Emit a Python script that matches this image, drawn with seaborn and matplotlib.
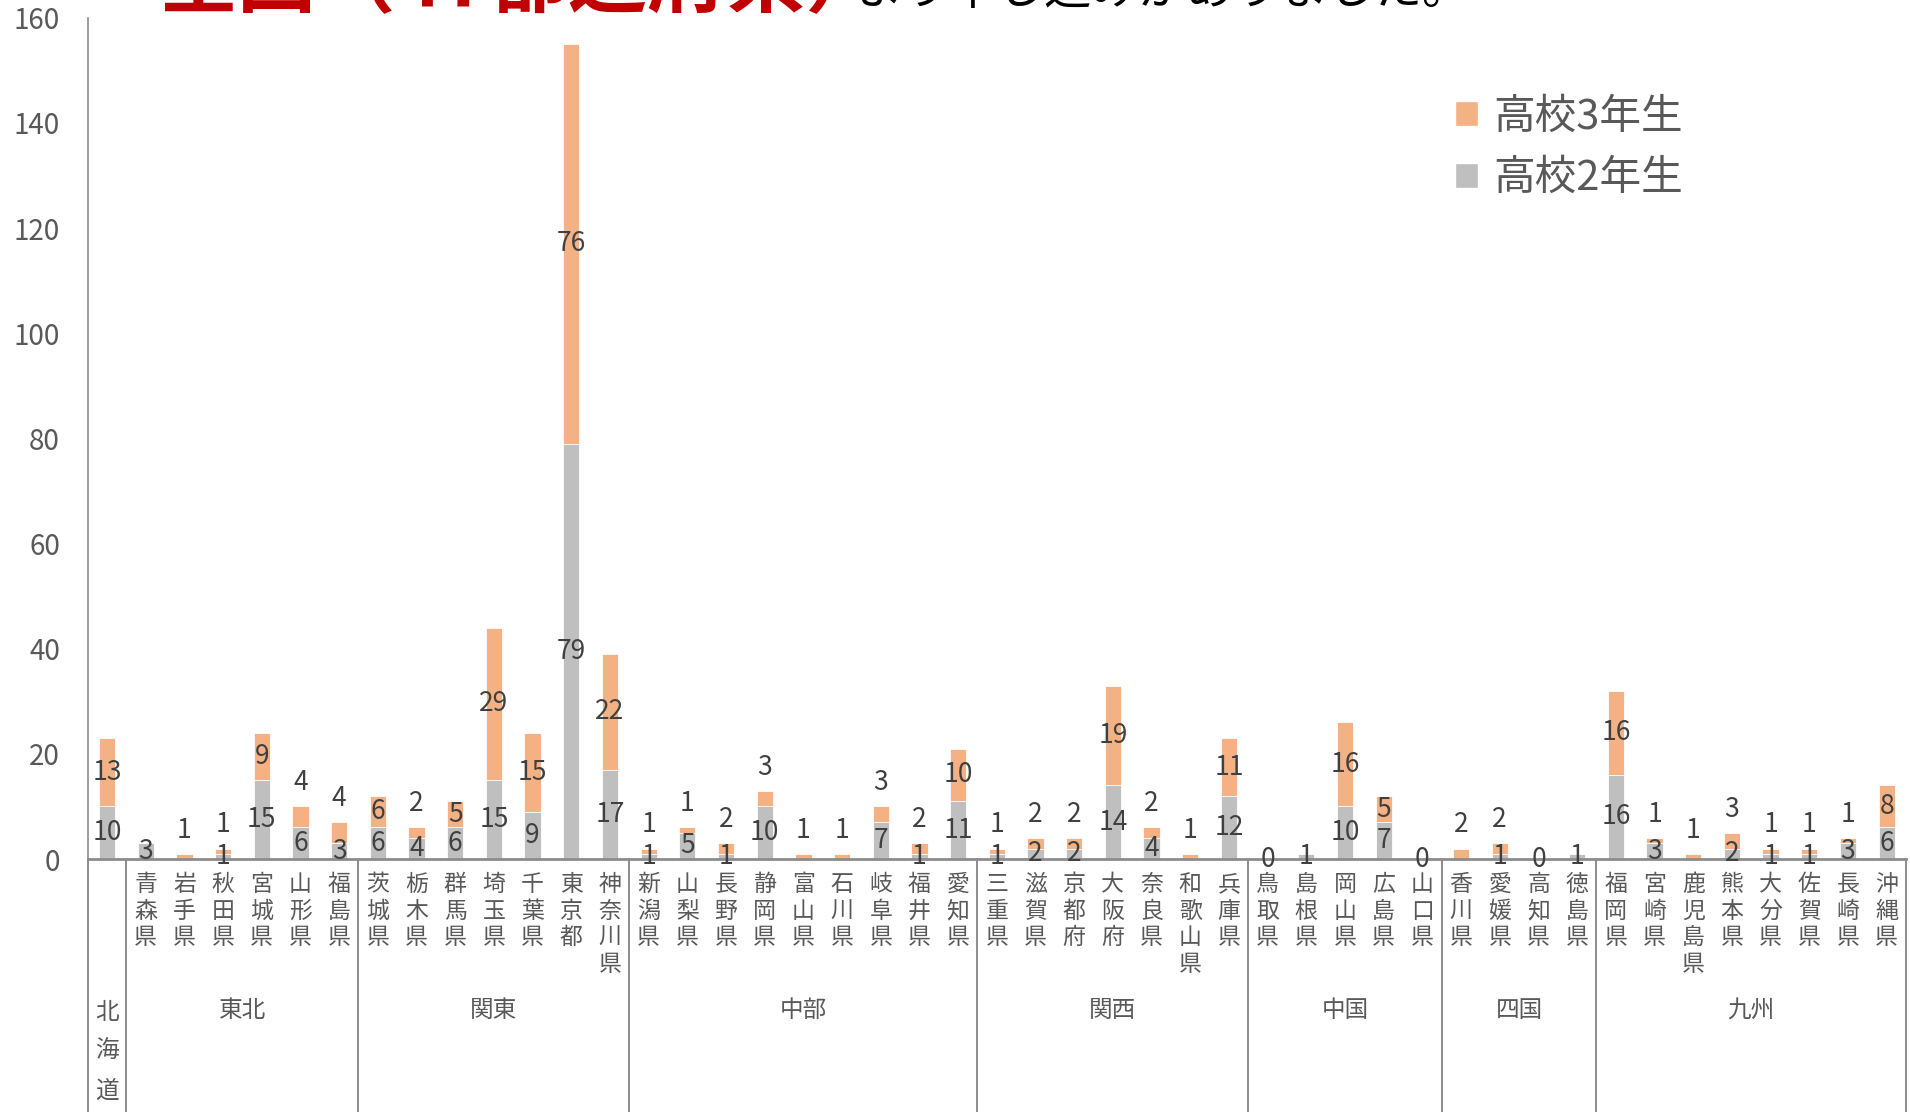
import numpy as np
import pandas as pd
import matplotlib
matplotlib.use("Agg")
import matplotlib.pyplot as plt
import seaborn as sns
from matplotlib.patches import Patch
from matplotlib.lines import Line2D
from matplotlib.transforms import blended_transform_factory

sns.set_style("white")
plt.rcParams['font.family'] = ['Noto Sans CJK JP', 'DejaVu Sans']

# 都道府県（左から順）
prefs = ["北海道",
         "青森県", "岩手県", "秋田県", "宮城県", "山形県", "福島県",
         "茨城県", "栃木県", "群馬県", "埼玉県", "千葉県", "東京都", "神奈川県",
         "新潟県", "山梨県", "長野県", "静岡県", "富山県", "石川県", "岐阜県", "福井県", "愛知県",
         "三重県", "滋賀県", "京都府", "大阪府", "奈良県", "和歌山県", "兵庫県",
         "鳥取県", "島根県", "岡山県", "広島県", "山口県",
         "香川県", "愛媛県", "高知県", "徳島県",
         "福岡県", "宮崎県", "鹿児島県", "熊本県", "大分県", "佐賀県", "長崎県", "沖縄県"]

# 高校2年生
grade2 = [10,
          3, 0, 1, 15, 6, 3,
          6, 4, 6, 15, 9, 79, 17,
          1, 5, 1, 10, 0, 0, 7, 1, 11,
          1, 2, 2, 14, 4, 0, 12,
          0, 1, 10, 7, 0,
          0, 1, 0, 1,
          16, 3, 0, 2, 1, 1, 3, 6]

# 高校3年生
grade3 = [13,
          0, 1, 1, 9, 4, 4,
          6, 2, 5, 29, 15, 76, 22,
          1, 1, 2, 3, 1, 1, 3, 2, 10,
          1, 2, 2, 19, 2, 1, 11,
          0, 0, 16, 5, 0,
          2, 2, 0, 0,
          16, 1, 1, 3, 1, 1, 1, 8]

regions = ["北\n海\n道", "東北", "関東", "中部", "関西", "中国", "四国", "九州"]
region_sizes = [1, 6, 7, 9, 7, 5, 4, 8]

df = pd.DataFrame({"pref": prefs, "g2": grade2, "g3": grade3})
df["total"] = df["g2"] + df["g3"]

orange = "#F4B183"
gray = "#BFBFBF"
txt = "#595959"
lab = "#404040"
line_c = "#8C8C8C"

fig = plt.figure(figsize=(19.1, 11.12), dpi=100)
ax = fig.add_axes([0.0459, 0.2275, 0.952, 0.7565])

sns.barplot(data=df, x="pref", y="total", color=orange, width=0.42,
            saturation=1, edgecolor="white", linewidth=0.6, ax=ax)
sns.barplot(data=df, x="pref", y="g2", color=gray, width=0.42,
            saturation=1, edgecolor="white", linewidth=0.6, ax=ax)

ax.set_xlim(-0.5, len(prefs) - 0.5)
ax.set_ylim(0, 160)
ax.set_yticks(np.arange(0, 161, 20))
ax.tick_params(axis="y", length=0, pad=20, labelsize=20, labelcolor=txt)
ax.set_xlabel("")
ax.set_ylabel("")

# 北海道は地域名の段にだけ表示
ticklabs = ["" if p == "北海道" else "\n".join(p) for p in prefs]
ax.set_xticks(range(len(prefs)))
ax.set_xticklabels(ticklabs, fontsize=16.5, color=txt, linespacing=1.2, va="top")
ax.tick_params(axis="x", length=0, pad=10)

for s in ["top", "right"]:
    ax.spines[s].set_visible(False)
ax.spines["left"].set_color(line_c)
ax.spines["bottom"].set_color(line_c)
ax.spines["bottom"].set_linewidth(2)
ax.spines["left"].set_linewidth(1.2)

# データラベル
for i, r in df.iterrows():
    g, o = r["g2"], r["g3"]
    if g > 0:
        ax.text(i, g / 2, str(g), ha="center", va="center", fontsize=19, color=lab)
    if o >= 5:
        ax.text(i, g + o / 2, str(o), ha="center", va="center", fontsize=19, color=lab)
    elif o > 0:
        ax.text(i, g + o + 4.5, str(o), ha="center", va="center", fontsize=19, color=lab)
    if g == 0 and o == 0:
        ax.text(i, 0, "0", ha="center", va="center", fontsize=19, color=lab)

# 地域区分
tr = blended_transform_factory(ax.transData, fig.transFigure)
start = -0.5
bounds = [start]
for name, n in zip(regions, region_sizes):
    mid = start + n / 2
    if "\n" in name:
        ax.text(mid, 0.054, name, transform=tr, ha="center", va="center",
                fontsize=17, color=txt, linespacing=1.9, clip_on=False)
    else:
        ax.text(mid, 0.091, name, transform=tr, ha="center", va="center",
                fontsize=17, color=txt, clip_on=False)
    start += n
    bounds.append(start)

for b in bounds:
    ax.add_line(Line2D([b, b], [0, 0.2275], transform=tr, color=line_c,
                       lw=1.4, clip_on=False))

handles = [Patch(facecolor=orange, label="高校3年生"),
           Patch(facecolor=gray, label="高校2年生")]
fig.legend(handles=handles, loc="center left", bbox_to_anchor=(0.762, 0.867),
           frameon=False, fontsize=30, labelcolor=txt, handlelength=0.55,
           handleheight=0.55, handletextpad=0.35, labelspacing=0.5,
           borderpad=0, borderaxespad=0)

fig.text(0.0827, 1 - 6 / 1112, "全国（47都道府県）", color="#C00000",
         fontsize=57, fontweight="bold", ha="left", va="baseline")
fig.text(0.4475, 1 - 4 / 1112, "より申し込みがありました。", color="black",
         fontsize=34, ha="left", va="baseline")

fig.savefig("out.png", dpi=100)
